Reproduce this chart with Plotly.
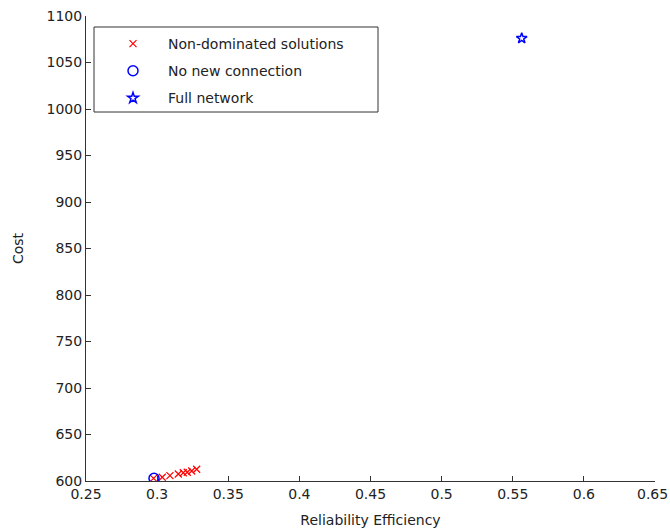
import plotly.graph_objects as go

# Non-dominated solutions
nd_eff = [0.2975, 0.3036, 0.3090, 0.3149, 0.3184, 0.3212, 0.3243, 0.3278]
nd_cost = [602.9, 604.0, 605.7, 607.5, 608.9, 609.4, 610.8, 612.6]
# No new connection
nn_eff = [0.2978]
nn_cost = [603.0]
# Full network
fn_eff = [0.5563]
fn_cost = [1076.0]

x_ticks = [0.25, 0.3, 0.35, 0.4, 0.45, 0.5, 0.55, 0.6, 0.65]
x_labels = ["0.25", "0.3", "0.35", "0.4", "0.45", "0.5", "0.55", "0.6", "0.65"]
y_ticks = [600, 650, 700, 750, 800, 850, 900, 950, 1000, 1050, 1100]

FONT = "DejaVu Sans, sans-serif"
TXT = "#222222"
PH = 465  # plot height in px

fig = go.Figure()
fig.add_trace(go.Scatter(x=nd_eff, y=nd_cost, mode="markers", name="Non-dominated solutions",
                         legendgroup="a",
                         marker=dict(symbol="x-thin-open", size=7, color="red",
                                     line=dict(color="red", width=1.2))))
fig.add_trace(go.Scatter(x=nn_eff, y=nn_cost, mode="markers", name="No new connection",
                         legendgroup="b",
                         marker=dict(symbol="circle-open", size=10, color="blue",
                                     line=dict(color="blue", width=1.5))))
fig.add_trace(go.Scatter(x=fn_eff, y=fn_cost, mode="markers", name="Full network",
                         legendgroup="c",
                         marker=dict(symbol="star-open", size=8, color="blue",
                                     line=dict(color="blue", width=1.5))))

axis_common = dict(showgrid=False, zeroline=False, showline=True, linecolor="#333333",
                   linewidth=1, ticks="inside", ticklen=5, tickcolor="#333333",
                   tickfont=dict(family=FONT, size=14, color=TXT),
                   mirror=False, automargin=False)

# last x tick label would be clipped by plotly at the page edge; draw it as annotation
shown_labels = x_labels[:-1] + [""]
fig.update_xaxes(range=[0.25, 0.65], tickvals=x_ticks, ticktext=shown_labels,
                 title=dict(text="Reliability Efficiency", font=dict(family=FONT, size=14, color=TXT),
                            standoff=14),
                 **axis_common)
fig.update_yaxes(range=[600, 1100], tickvals=y_ticks,
                 title=dict(text="Cost", font=dict(family=FONT, size=14, color=TXT),
                            standoff=19),
                 **axis_common)

fig.add_annotation(x=x_ticks[-1], xref="x", y=0, yref="paper", text=x_labels[-1],
                   showarrow=False, xanchor="right", yanchor="top", yshift=-3,
                   font=dict(family=FONT, size=14, color=TXT), xshift=15)

fig.add_shape(type="rect", xref="paper", yref="paper",
              x0=(94 - 86) / 569, x1=(378 - 86) / 569,
              y0=(481 - 112) / PH, y1=(481 - 27) / PH,
              line=dict(color="#333333", width=1), fillcolor="white", layer="below")

fig.update_layout(
    width=670, height=531,
    margin=dict(l=86, r=15, t=16, b=50),
    plot_bgcolor="white", paper_bgcolor="white",
    font=dict(family=FONT, size=14, color=TXT),
    legend=dict(x=(98 - 86) / 569, y=(481 - 28) / PH, xanchor="left", yanchor="top",
                bgcolor="rgba(0,0,0,0)", borderwidth=0, tracegroupgap=6,
                itemwidth=60, font=dict(family=FONT, size=14, color=TXT)),
)

fig.write_html("out.html")
